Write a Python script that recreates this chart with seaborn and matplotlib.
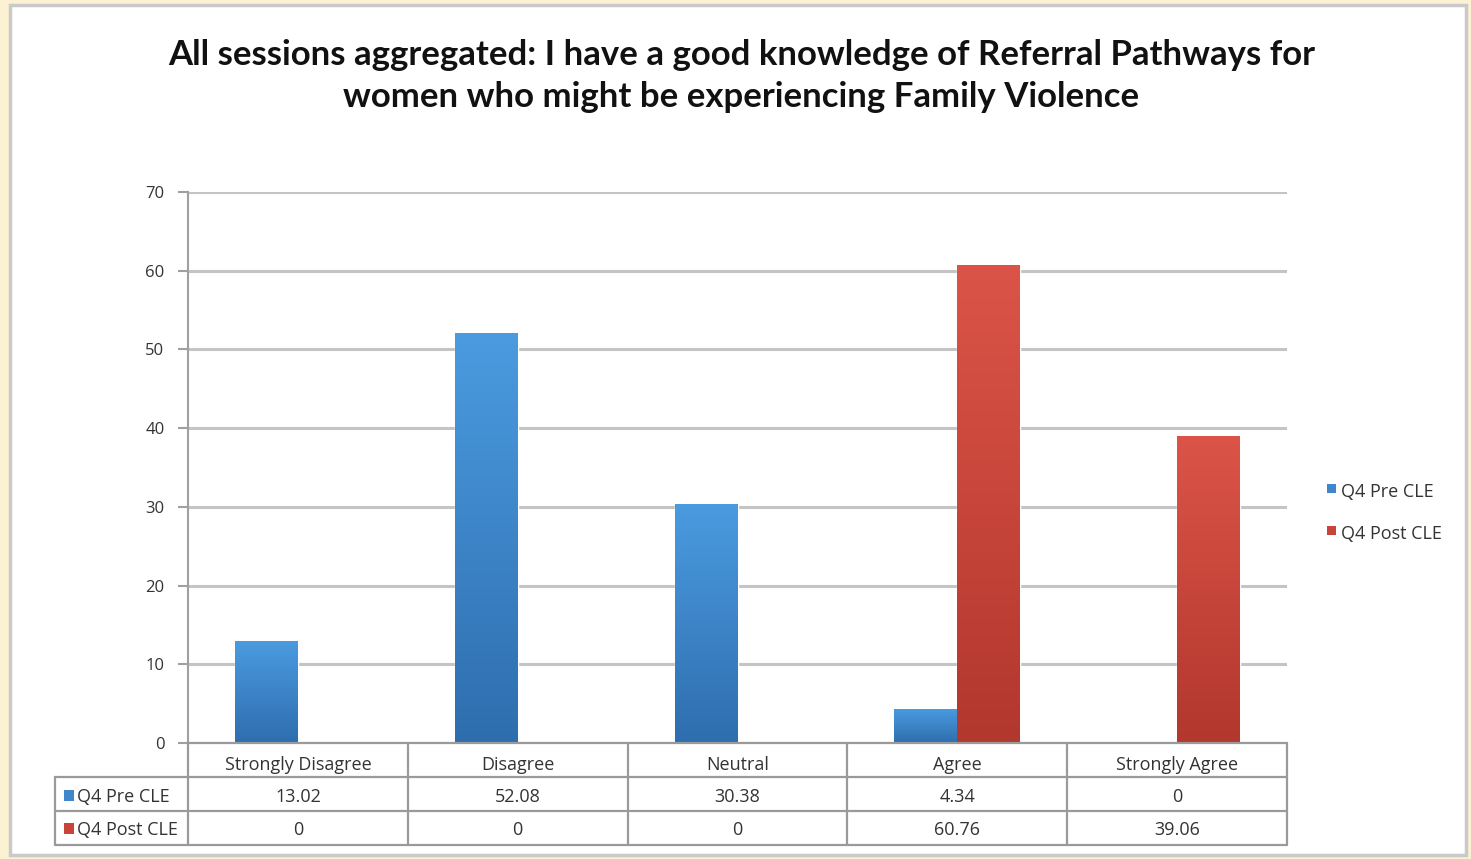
import numpy as np
import pandas as pd
import matplotlib
matplotlib.use("Agg")
import matplotlib.pyplot as plt
import seaborn as sns
from matplotlib.patches import Rectangle
from matplotlib.colors import LinearSegmentedColormap

categories = ["Strongly Disagree", "Disagree", "Neutral", "Agree", "Strongly Agree"]
series_names = ["Q4 Pre CLE", "Q4 Post CLE"]
pre_values = [13.02, 52.08, 30.38, 4.34, 0]
post_values = [0, 0, 0, 60.76, 39.06]
y_ticks = [0, 10, 20, 30, 40, 50, 60, 70]
title = ("All sessions aggregated: I have a good knowledge of Referral Pathways for\n"
         "women who might be experiencing Family Violence")

series_colors = {"Q4 Pre CLE": "#3f86cc", "Q4 Post CLE": "#c8443a"}
gradients = {"Q4 Pre CLE": ("#4b9be0", "#2e6eae"), "Q4 Post CLE": ("#dc5448", "#b2372d")}

df = pd.DataFrame({
    "category": categories * 2,
    "series": [series_names[0]] * len(categories) + [series_names[1]] * len(categories),
    "value": pre_values + post_values,
})

sns.set_theme(style="white")
plt.rcParams["font.family"] = ["Open Sans", "DejaVu Sans"]

fig = plt.figure(figsize=(14.71, 8.59), dpi=100)
fig.patch.set_facecolor("#fdf1d4")

# white chart panel
panel = Rectangle((10 / 1471, 4 / 859), 1456 / 1471, 850 / 859, transform=fig.transFigure,
                  facecolor="white", edgecolor="#c9c9c9", linewidth=2.5, zorder=-5)
fig.patches.append(panel)

ax = fig.add_axes([188 / 1471, 1 - 743 / 859, (1287 - 188) / 1471, (743 - 192) / 859])
ax.set_facecolor("none")

sns.barplot(data=df, x="category", y="value", hue="series", order=categories,
            hue_order=series_names, palette=series_colors, width=0.573,
            saturation=1, legend=False, ax=ax, zorder=3)

# vertical gradient fill on each bar
grad = np.linspace(1, 0, 256).reshape(-1, 1)
for container, name in zip(ax.containers, series_names):
    cmap = LinearSegmentedColormap.from_list(name, [gradients[name][1], gradients[name][0]])
    for patch in container.patches:
        x0, y0 = patch.get_x(), patch.get_y()
        w, h = patch.get_width(), patch.get_height()
        if h <= 0:
            continue
        im = ax.imshow(grad, cmap=cmap, vmin=0, vmax=1, aspect="auto",
                       extent=(x0, x0 + w, y0, y0 + h), zorder=4)
        im.set_clip_path(patch)

ax.set_xlim(-0.5, len(categories) - 0.5)
ax.set_ylim(0, 70)
ax.set_yticks(y_ticks)
ax.set_xticks([])
ax.set_xlabel("")
ax.set_ylabel("")
ax.yaxis.grid(True, color="#c4c4c4", linewidth=2.2, zorder=0)
ax.set_axisbelow(True)
for s in ["top", "right", "bottom"]:
    ax.spines[s].set_visible(False)
ax.spines["left"].set_color("#a0a0a0")
ax.spines["left"].set_linewidth(1.5)
ax.tick_params(axis="y", left=True, length=7, width=1.5, color="#a0a0a0",
               labelsize=12, labelcolor="#333333", pad=10)

# data table beneath the plot
trans = ax.get_xaxis_transform()
row_h = 34 / (743 - 192)
line_kw = dict(color="#9a9a9a", linewidth=1.6, clip_on=False, transform=trans, zorder=5)
left_x = -0.5 - (188 - 55) / ((1287 - 188) / len(categories))
bottom = -3 * row_h
ax.plot([-0.5, 4.5], [0, 0], **line_kw)
ax.plot([left_x, 4.5], [-row_h, -row_h], **line_kw)
ax.plot([left_x, 4.5], [-2 * row_h, -2 * row_h], **line_kw)
ax.plot([left_x, 4.5], [bottom, bottom], **line_kw)
for xb in np.arange(-0.5, len(categories)):
    ax.plot([xb, xb], [0, bottom], **line_kw)
ax.plot([left_x, left_x], [-row_h, bottom], **line_kw)

row_text_y = [-0.64 * row_h, -1.6 * row_h, -2.57 * row_h]
text_kw = dict(transform=trans, ha="center", va="center", fontsize=13,
               color="#333333", clip_on=False)
for i, cat in enumerate(categories):
    ax.text(i, row_text_y[0], cat, **text_kw)
    ax.text(i, row_text_y[1], f"{pre_values[i]:g}", **text_kw)
    ax.text(i, row_text_y[2], f"{post_values[i]:g}", **text_kw)

sq_w = 0.045
for r, name in enumerate(series_names):
    yc = row_text_y[r + 1]
    ax.add_patch(Rectangle((left_x + 0.04, yc - 0.006), sq_w, 0.02, transform=trans,
                           facecolor=series_colors[name], edgecolor="none", clip_on=False))
    ax.text(left_x + 0.1, yc, name, transform=trans, ha="left", va="center",
            fontsize=13, color="#333333", clip_on=False)

# legend on the right
for r, name in enumerate(series_names):
    yf = 1 - (492 + 42 * r) / 859
    fig.patches.append(Rectangle((1327 / 1471, yf - 0.001), 9 / 1471, 9 / 859,
                                 transform=fig.transFigure,
                                 facecolor=series_colors[name], edgecolor="none"))
    fig.text(1341 / 1471, yf, name, ha="left", va="center", fontsize=13, color="#333333")

fig.text(0.504, 1 - 76 / 859, title, ha="center", va="center", fontsize=25,
         fontweight="bold", color="#111111", linespacing=1.38,
         family=["Lato", "DejaVu Sans"])

fig.savefig("out.png", dpi=100, facecolor=fig.get_facecolor())
